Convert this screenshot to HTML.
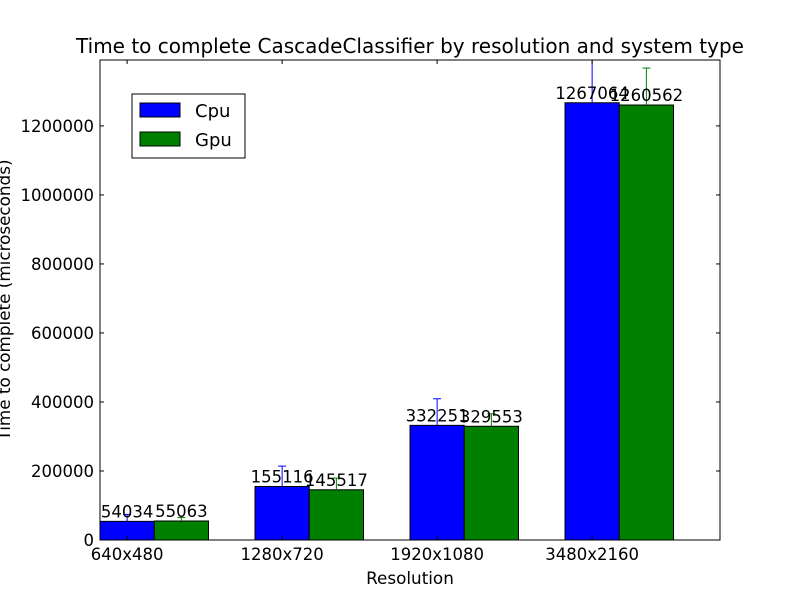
<!DOCTYPE html>
<html><head><meta charset="utf-8"><style>
body{margin:0;background:#fff;}
svg{display:block;font-family:"DejaVu Sans","Liberation Sans",sans-serif;}
</style></head><body>
<svg id="chart" width="800" height="600">
<rect width="800" height="600" fill="#fff"/>
<text x="410" y="53" font-size="20" text-anchor="middle">Time to complete CascadeClassifier by resolution and system type</text>
<g id="marks"></g>
<rect x="100" y="60" width="620" height="480" fill="none" stroke="#000" stroke-width="1"/>
<g id="axes"></g>
<text x="410" y="584" font-size="16.8" text-anchor="middle">Resolution</text>
<text x="0" y="0" font-size="16.8" text-anchor="middle" transform="translate(10,300) rotate(-90)">Time to complete (microseconds)</text>
<g>
<rect x="132" y="94" width="113" height="64" fill="#fff" stroke="#000"/>
<rect x="140" y="103" width="40" height="14" fill="#0000ff" stroke="#000"/>
<text x="195" y="117" font-size="18">Cpu</text>
<rect x="140" y="132" width="40" height="14" fill="#008000" stroke="#000"/>
<text x="195" y="146" font-size="18">Gpu</text>
</g>
</svg>
<script>
const categories = ["640x480","1280x720","1920x1080","3480x2160"];
const cpuValues = [54034,155116,332251,1267064];
const gpuValues = [55063,145517,329553,1260562];
const cpuErrors = [20000,59000,77000,150000];
const gpuErrors = [10000,34000,36000,107000];
const yTicks = [0,200000,400000,600000,800000,1000000,1200000];
const yMax = 1391000;
const NS = "http://www.w3.org/2000/svg";
const X0=100,X1=720,Y0=540,Y1=60;
function xs(v){return X0+v*(X1-X0)/4;}
function ys(v){return Y0-v*(Y0-Y1)/yMax;}
const marks=document.getElementById('marks'), axes=document.getElementById('axes');
function mk(tag,attrs,parent){const e=document.createElementNS(NS,tag);for(const k in attrs)e.setAttribute(k,attrs[k]);parent.appendChild(e);return e;}
const bw=0.35;
const series=[{vals:cpuValues,errs:cpuErrors,color:"#0000ff",name:"cpu",off:0},{vals:gpuValues,errs:gpuErrors,color:"#008000",name:"gpu",off:bw}];
series.forEach(s=>{
  s.vals.forEach((v,i)=>{
    const xl=xs(i+s.off), xr=xs(i+s.off+bw), cx=(xl+xr)/2;
    const r=mk('rect',{x:xl,y:ys(v),width:xr-xl,height:Y0-ys(v),fill:s.color,stroke:'#000','stroke-width':1},marks);
    
    
    const top=Math.max(ys(v+s.errs[i]),Y1);
    const l=mk('line',{x1:cx,x2:cx,y1:ys(v),y2:top,stroke:s.color,'stroke-width':1},marks);
    
    
    if(ys(v+s.errs[i])>=Y1){
      const c=mk('line',{x1:cx-4,x2:cx+4,y1:top,y2:top,stroke:s.color,'stroke-width':1},marks);
      
      
    }
    const t=mk('text',{x:cx,y:ys(v)-4,'font-size':16.5,'text-anchor':'middle'},marks);
    t.textContent=v;
    
    
  });
});
yTicks.forEach(v=>{
  const y=ys(v);
  mk('line',{x1:X0,x2:X0+4,y1:y,y2:y,stroke:'#000'},axes);
  mk('line',{x1:X1,x2:X1-4,y1:y,y2:y,stroke:'#000'},axes);
  const t=mk('text',{x:X0-6,y:y+6,'font-size':16.5,'text-anchor':'end'},axes);
  t.textContent=v;
  
  
});
categories.forEach((c,i)=>{
  const x=xs(i+bw/2);
  mk('line',{x1:x,x2:x,y1:Y0,y2:Y0-4,stroke:'#000'},axes);
  mk('line',{x1:x,x2:x,y1:Y1,y2:Y1+4,stroke:'#000'},axes);
  const t=mk('text',{x:x,y:Y0+20,'font-size':16.5,'text-anchor':'middle'},axes);
  t.textContent=c;
  
  
});
</script>
</body></html>
